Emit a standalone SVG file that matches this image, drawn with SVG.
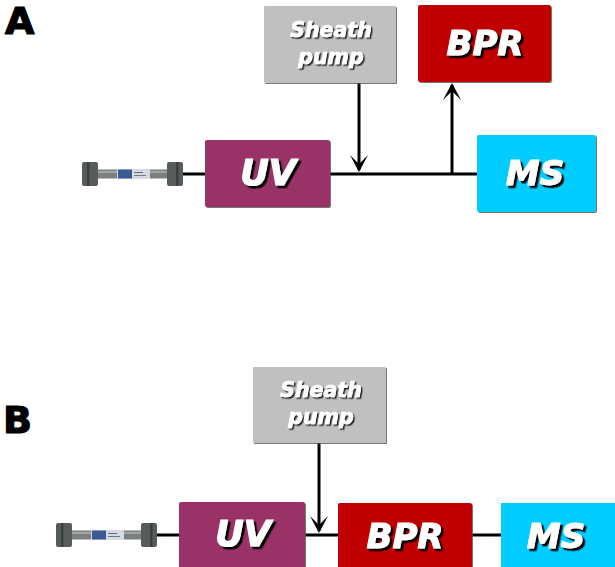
<svg xmlns="http://www.w3.org/2000/svg" width="615" height="567" viewBox="0 0 615 567">
<style>
.box{filter:url(#boxsh)}
.t{font-family:"DejaVu Sans","Liberation Sans",sans-serif;font-weight:bold;font-style:italic;fill:#fff;stroke:#fff;text-anchor:middle;filter:url(#txtsh)}
.big{font-size:35px;stroke-width:1.2}
.mid{font-size:34px;stroke-width:1}
.small{font-size:20.500px;stroke-width:.7;filter:url(#txtsm)}
.panel{font-family:"DejaVu Sans","Liberation Sans",sans-serif;font-weight:bold;font-size:38px;fill:#000;stroke:#000;stroke-width:1.200}
.c{stroke:#000;stroke-width:3;fill:none}
.nut{fill:#565b5c}
.nutd{fill:#3c4041}
.tube{fill:#7b7f80}
</style>
<defs>
<filter id="boxsh" x="-5%" y="-5%" width="110%" height="110%"><feDropShadow dx="1" dy="1" stdDeviation="0.6" flood-color="#555" flood-opacity=".8"/></filter>
<filter id="txtsh" x="-10%" y="-10%" width="125%" height="130%"><feDropShadow dx="2.5" dy="2.5" stdDeviation="0.5" flood-color="#000"/></filter>
<filter id="txtsm" x="-10%" y="-10%" width="125%" height="130%"><feDropShadow dx="1.500" dy="1.500" stdDeviation="0.6" flood-color="#222"/></filter>
<filter id="soft" x="-5%" y="-20%" width="110%" height="140%"><feGaussianBlur stdDeviation="0.5"/></filter>
<marker id="arr" markerUnits="userSpaceOnUse" markerWidth="18" markerHeight="18" refX="15" refY="9" orient="auto"><path d="M0 0 L17 9 L0 18 L9 9 Z" fill="#000"/></marker>
<g id="col" filter="url(#soft)">
<rect class="tube" x="97" y="-4.500" width="72" height="9"/>
<rect x="97" y="-3" width="72" height="2" fill="#a3a6a7"/>
<rect class="nut" x="82" y="-12" width="16" height="24" rx="2"/>
<rect class="nutd" x="87" y="-12" width="2.500" height="24"/>
<rect class="nut" x="167" y="-12" width="16" height="24" rx="2"/>
<rect class="nutd" x="176" y="-12" width="2.500" height="24"/>
<rect x="117" y="-5" width="33" height="10" fill="#d5dbe2"/>
<rect x="118" y="-4.500" width="14" height="9" fill="#3a5a94"/>
<rect x="134" y="-2" width="9" height="1" fill="#667"/>
<rect x="134" y="1" width="12" height="1" fill="#778"/>
</g>
</defs>
<text class="panel" x="5" y="34">A</text>
<text class="panel" x="3" y="433">B</text>

<g id="connectors">
<path class="c" d="M183 174H205"/>
<path class="c" d="M330 174H477"/>
<path class="c" d="M359 83V170" marker-end="url(#arr)"/>
<path class="c" d="M452 174V85" marker-end="url(#arr)"/>
<path class="c" d="M157 535H179"/>
<path class="c" d="M305 535H338"/>
<path class="c" d="M319 443V531" marker-end="url(#arr)"/>
<path class="c" d="M472 535H501"/>
</g>

<g id="column-a" transform="translate(0 174)"><use href="#col"/></g>
<g id="sheath-a"><rect class="box" x="264" y="6" width="132" height="77" fill="#c0c0c0" rx="1"/><text class="t small" x="331" y="37">Sheath</text><text class="t small" x="331" y="64">pump</text></g>
<g id="bpr-a"><rect class="box" x="418" y="5" width="133" height="77" fill="#c00000" rx="2"/><text class="t mid" x="485" y="55">BPR</text></g>
<g id="uv-a"><rect class="box" x="205" y="140" width="125" height="67" fill="#993366" rx="2"/><text class="t big" x="268" y="185">UV</text></g>
<g id="ms-a"><rect class="box" x="477" y="135" width="119" height="77" fill="#00ccff" rx="2"/><text class="t mid" x="535" y="185">MS</text></g>

<g id="column-b" transform="translate(-26 535)"><use href="#col"/></g>
<g id="sheath-b"><rect class="box" x="253" y="367" width="133" height="76" fill="#c0c0c0" rx="1"/><text class="t small" x="321" y="397">Sheath</text><text class="t small" x="321" y="424">pump</text></g>
<g id="uv-b"><rect class="box" x="179" y="502" width="126" height="70" fill="#993366" rx="2"/><text class="t big" x="243" y="546">UV</text></g>
<g id="bpr-b"><rect class="box" x="338" y="503" width="134" height="69" fill="#c00000" rx="2"/><text class="t mid" x="405" y="548">BPR</text></g>
<g id="ms-b"><rect class="box" x="501" y="503" width="120" height="69" fill="#00ccff"/><text class="t mid" x="556" y="548">MS</text></g>
</svg>
